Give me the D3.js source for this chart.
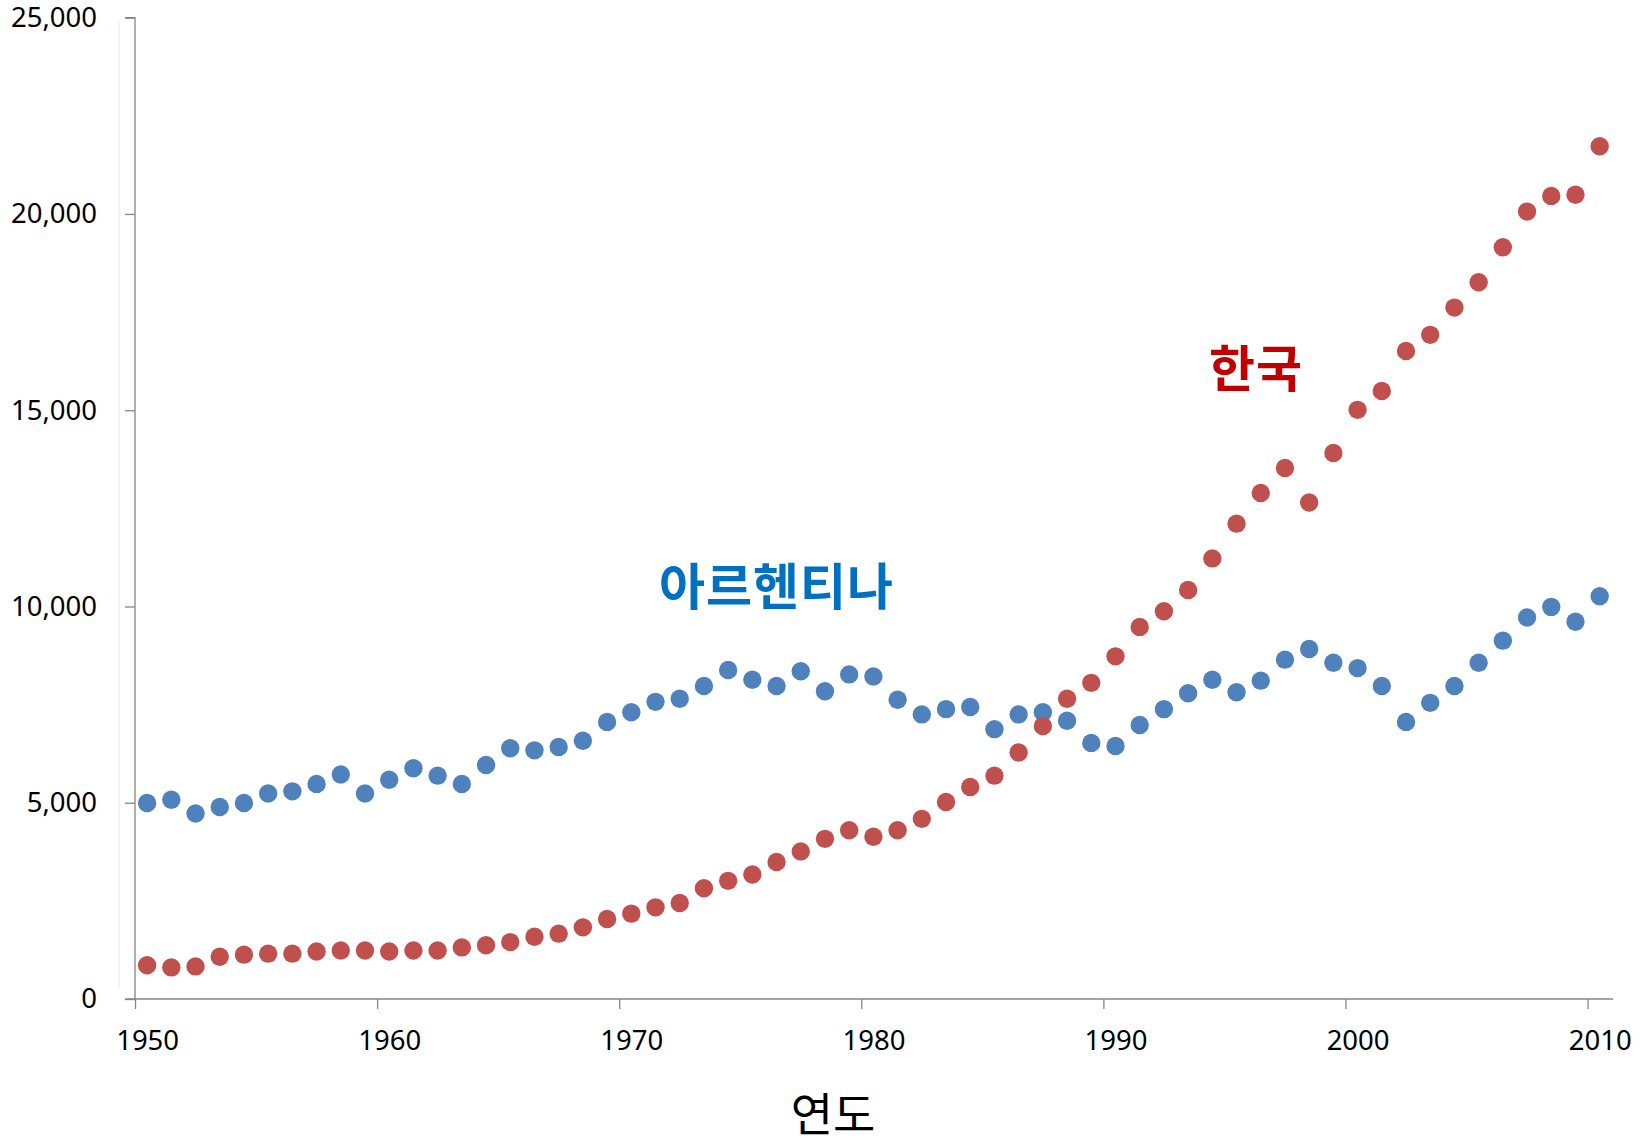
<!DOCTYPE html>
<html><head><meta charset="utf-8">
<script src="https://cdn.jsdelivr.net/npm/d3@7"></script>
<style>body{margin:0;background:#fff}</style>
</head><body>
<svg id="chart" width="1652" height="1142"></svg>
<script>
const years = d3.range(1950, 2011);
const korea = [860,805,830,1075,1130,1155,1155,1210,1235,1235,1210,1235,1235,1315,1370,1450,1585,1665,1825,2040,
  2175,2335,2445,2820,3010,3170,3490,3760,4080,4300,4135,4300,4590,5020,5400,5690,6280,6955,7650,8055,
  8730,9480,9880,10420,11225,12110,12890,13530,12650,13910,15010,15490,16510,16920,17615,18260,19150,20060,20460,20490,21725];
const argentina = [4995,5075,4725,4890,4995,5235,5290,5480,5720,5235,5585,5880,5690,5480,5960,6390,6335,6420,6580,7060,
  7305,7570,7650,7975,8380,8135,7975,8350,7840,8270,8215,7625,7250,7385,7440,6875,7250,7305,7090,6525,
  6445,6980,7385,7790,8135,7815,8110,8645,8915,8565,8430,7975,7060,7545,7975,8565,9130,9720,9990,9610,10260];
const yTicks = [0,5000,10000,15000,20000,25000];
const xTicks = [1950,1960,1970,1980,1990,2000,2010];
const xTitle = "연도";
const labels = [{text:"아르헨티나", year:1976.5, value:10025, color:"#0070C0"},
                {text:"한국", year:1996.3, value:15600, color:"#C00000"}];

const svg = d3.select("#chart");
const x = d3.scaleLinear().domain([1950, 2011.05]).range([135, 1613]);
const y = d3.scaleLinear().domain([0, 25000]).range([999, 17.7]);
const font = "'Noto Sans', 'Open Sans', sans-serif";
const axisColor = "#868686";

// faint frame line
svg.append("line").attr("x1",119).attr("x2",119).attr("y1",22).attr("y2",988)
  .attr("stroke","#efefef").attr("stroke-width",1.5);

// y axis
const ya = svg.append("g").attr("transform",`translate(${x(1950)},0)`)
  .call(d3.axisLeft(y).tickValues(yTicks).tickSize(10).tickPadding(28).tickFormat(d3.format(",")));
ya.select(".domain").attr("stroke",axisColor).attr("stroke-width",1.3).attr("d",`M-10,${y(25000)}H0V${y(0)}`);
ya.selectAll(".tick line").attr("stroke",axisColor).attr("stroke-width",1.3);
ya.selectAll("text").attr("font-family",font).attr("font-size",27.5).attr("fill","#000");

// x axis
const xa = svg.append("g").attr("transform",`translate(0,${y(0)})`)
  .call(d3.axisBottom(x).tickValues(xTicks).tickSize(10).tickFormat(d3.format("d")));
xa.select(".domain").attr("stroke",axisColor).attr("stroke-width",1.3).attr("d",`M${x(1950)-10},0H${x(2011.05)}`);
xa.selectAll(".tick line").attr("stroke",axisColor).attr("stroke-width",1.3);
xa.selectAll("text").attr("font-family",font).attr("font-size",27.5).attr("fill","#000")
  .attr("x", d => x(d+0.5)-x(d)).attr("y",31);

// title
svg.append("text").attr("x",833).attr("y",1131).attr("text-anchor","middle")
  .attr("font-family","'Noto Sans CJK KR', sans-serif").attr("font-size",46).attr("fill","#000").text(xTitle);

// dots
svg.append("g").selectAll("circle").data(argentina).join("circle")
  .attr("cx",(d,i)=>x(years[i]+0.5)).attr("cy",d=>y(d)).attr("r",9.2).attr("fill","#4F81BD");
svg.append("g").selectAll("circle").data(korea).join("circle")
  .attr("cx",(d,i)=>x(years[i]+0.5)).attr("cy",d=>y(d)).attr("r",9.2).attr("fill","#C0504D");

// labels
svg.append("g").selectAll("text").data(labels).join("text")
  .attr("x",d=>x(d.year)).attr("y",d=>y(d.value)).attr("text-anchor","middle")
  .attr("font-family","'Noto Sans CJK KR', sans-serif").attr("font-weight","bold").attr("font-size",50)
  .attr("letter-spacing",1).attr("fill",d=>d.color).text(d=>d.text);
</script>
</body></html>
